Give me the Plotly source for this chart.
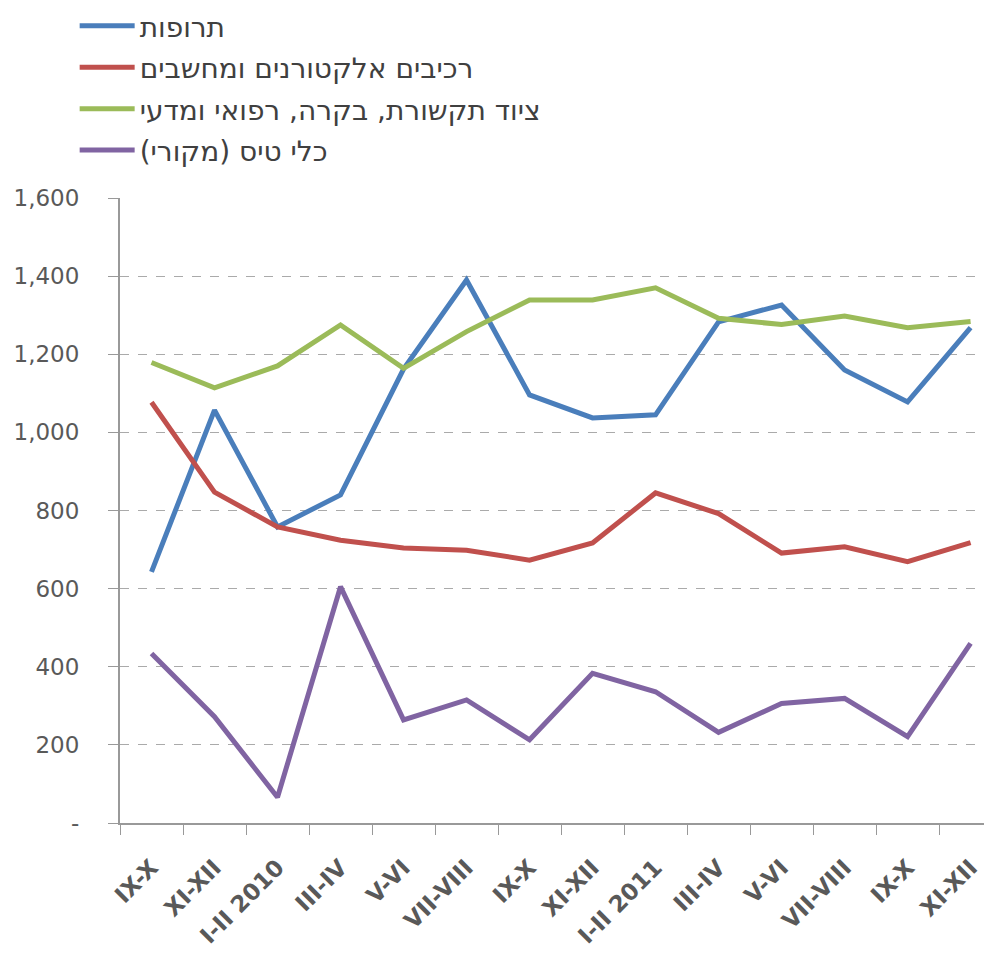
import plotly.graph_objects as go

categories = ["IX-X 2009", "XI-XII 2009", "I-II 2010", "III-IV 2010", "V-VI 2010", "VII-VIII 2010",
              "IX-X 2010", "XI-XII 2010", "I-II 2011", "III-IV 2011", "V-VI 2011", "VII-VIII 2011",
              "IX-X 2011", "XI-XII 2011"]
tick_labels = ["IX-X", "XI-XII", "I-II 2010", "III-IV", "V-VI", "VII-VIII", "IX-X",
               "XI-XII", "I-II 2011", "III-IV", "V-VI", "VII-VIII", "IX-X", "XI-XII"]

pharma = [643, 1057, 758, 840, 1162, 1390, 1096, 1037, 1045, 1283, 1326, 1160, 1078, 1268]
electronics = [1077, 847, 758, 724, 704, 698, 673, 717, 845, 792, 691, 707, 669, 718]
comm_equipment = [1179, 1114, 1170, 1275, 1164, 1258, 1339, 1339, 1370, 1292, 1276, 1298, 1268, 1284]
aircraft = [434, 272, 66, 605, 264, 315, 213, 383, 336, 232, 306, 319, 221, 460]

y_tickvals = [0, 200, 400, 600, 800, 1000, 1200, 1400, 1600]
y_ticktext = ["-", "200", "400", "600", "800", "1,000", "1,200", "1,400", "1,600"]

series = [
    ("תרופות", pharma, "#4A7EBB"),
    ("רכיבים אלקטורנים ומחשבים", electronics, "#C0504D"),
    ("ציוד תקשורת, בקרה, רפואי ומדעי", comm_equipment, "#9BBB59"),
    ("כלי טיס (מקורי)", aircraft, "#8064A2"),
]

fig = go.Figure()
for i, (name, vals, color) in enumerate(series):
    fig.add_trace(go.Scatter(
        x=categories, y=vals, name=name, mode="lines",
        line=dict(color=color, width=5), legendgroup=str(i),
    ))

grey = "#595959"
fig.update_layout(
    width=984, height=947,
    margin=dict(l=112, r=0, t=190, b=132, autoexpand=False),
    paper_bgcolor="white", plot_bgcolor="white",
    font=dict(family="DejaVu Sans", color=grey, size=20),
    showlegend=True,
    legend=dict(
        xref="paper", yref="paper", x=-0.052, y=1.315,
        xanchor="left", yanchor="top",
        font=dict(size=28, color="#404040", family="DejaVu Sans"),
        traceorder="grouped", tracegroupgap=2, itemwidth=55,
        bgcolor="rgba(0,0,0,0)",
    ),
    xaxis=dict(
        type="category", range=[-0.5, 13.34], tickson="boundaries",
        tickmode="array", tickvals=categories, ticktext=tick_labels,
        tickangle=-45, ticks="outside", ticklen=10, tickcolor="#999999",
        showline=True, linecolor="#999999", linewidth=2, showgrid=False,
        tickfont=dict(size=23, color=grey, family="DejaVu Sans", weight="bold"),
        ticklabelstandoff=20,
    ),
    yaxis=dict(
        range=[0, 1600], tickmode="array", tickvals=y_tickvals, ticktext=y_ticktext,
        ticks="outside", ticklen=10, tickcolor="#999999",
        showline=True, linecolor="#999999", linewidth=2,
        showgrid=True, gridcolor="#AAAAAA", gridwidth=1, griddash="dash",
        tickfont=dict(size=23, color=grey, family="DejaVu Sans"),
        ticklabelstandoff=24, zeroline=False,
    ),
)

fig.write_html("out.html")
